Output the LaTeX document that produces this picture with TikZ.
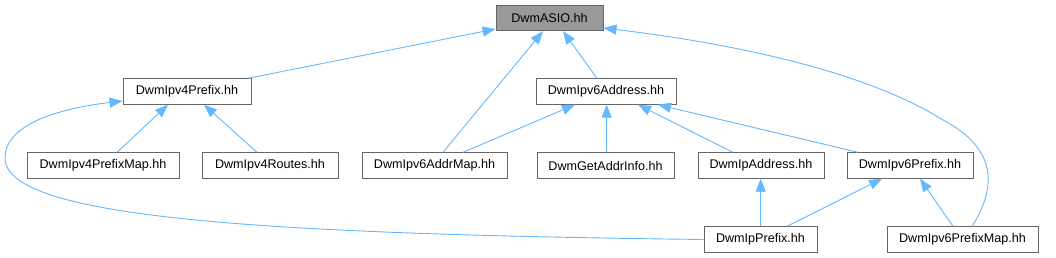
\documentclass[tikz,border=0pt]{standalone}
\usepackage{fontspec}
\setmainfont{Liberation Sans}
\usetikzlibrary{arrows.meta}
\definecolor{edgeblue}{HTML}{63B8FF}
\definecolor{boxline}{HTML}{666666}
\definecolor{rootfill}{HTML}{999999}
\tikzset{
  filebox/.style={draw=boxline, line width=0.9pt, fill=white, minimum height=25.5pt, inner sep=0pt, font=\fontsize{12.6}{14}\selectfont, text=black},
  rootbox/.style={filebox, fill=rootfill},
  dep/.style={draw=edgeblue, line width=0.9pt, -{Triangle[length=13pt,width=10pt,fill=edgeblue]}}
}
\begin{document}
\begin{tikzpicture}[x=1pt,y=-1pt]
\useasboundingbox (0,0) rectangle (1056,257);
\node[rootbox, minimum width=107pt] (asio) at (549.5,18) {DwmASIO.hh};
\node[filebox, minimum width=128pt] (v4p) at (187,91.5) {DwmIpv4Prefix.hh};
\node[filebox, minimum width=140pt] (v6a) at (606,91.5) {DwmIpv6Address.hh};
\node[filebox, minimum width=152pt] (v4pm) at (103,165.5) {DwmIpv4PrefixMap.hh};
\node[filebox, minimum width=136pt] (v4r) at (270,165.5) {DwmIpv4Routes.hh};
\node[filebox, minimum width=145pt] (v6am) at (434.5,165.5) {DwmIpv6AddrMap.hh};
\node[filebox, minimum width=137pt] (gai) at (605.5,165.5) {DwmGetAddrInfo.hh};
\node[filebox, minimum width=126pt] (ipa) at (761,165.5) {DwmIpAddress.hh};
\node[filebox, minimum width=126pt] (v6p) at (910,165.5) {DwmIpv6Prefix.hh};
\node[filebox, minimum width=113pt] (ipp) at (760.5,239.5) {DwmIpPrefix.hh};
\node[filebox, minimum width=151pt] (v6pm) at (962.5,239.5) {DwmIpv6PrefixMap.hh};

\draw[dep] ([xshift=61pt]v4p.north) -- ([yshift=-11pt]asio.west);
\draw[dep] ([xshift=8.5pt]v6am.north) -- ([xshift=-6.5pt]asio.south);
\draw[dep] ([xshift=-9pt]v6a.north) -- ([xshift=13.5pt]asio.south);
\draw[dep] ([xshift=9.5pt]v6pm.north) .. controls (995,190) and (1000,150) .. (943,120)
  .. controls (860,68) and (720,42) .. ([yshift=-10pt]asio.east);
\draw[dep] ([xshift=14pt]v4pm.north) -- ([xshift=-19pt]v4p.south);
\draw[dep] ([xshift=-13pt]v4r.north) -- ([xshift=17pt]v4p.south);
\draw[dep] (ipp.west) .. controls (260,234) and (5,218) .. (5,158)
  .. controls (5,118) and (80,106) .. ([yshift=-9.5pt]v4p.west);
\draw[dep] ([xshift=28.5pt]v6am.north) -- ([xshift=-31pt]v6a.south);
\draw[dep] ([xshift=1pt]gai.north) -- ([xshift=0.7pt]v6a.south);
\draw[dep] ([xshift=-28pt]ipa.north) -- ([xshift=32pt]v6a.south);
\draw[dep] ([xshift=-52pt]v6p.north) -- ([xshift=52pt]v6a.south);
\draw[dep] ([xshift=0.2pt]ipp.north) -- ([xshift=-0.3pt]ipa.south);
\draw[dep] ([xshift=26.5pt]ipp.north) -- ([xshift=-28pt]v6p.south);
\draw[dep] ([xshift=-9.5pt]v6pm.north) -- ([xshift=10pt]v6p.south);
\end{tikzpicture}
\end{document}
